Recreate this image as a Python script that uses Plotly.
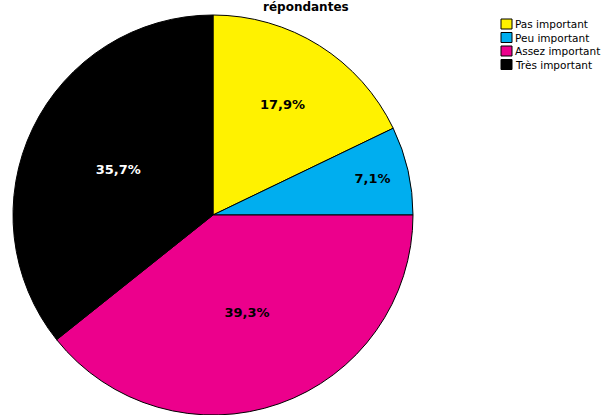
import plotly.graph_objects as go

labels = ["Pas important", "Peu important", "Assez important", "Très important"]
values = [5, 2, 11, 10]
colors = ["#FFF200", "#00AEEF", "#EC008C", "#000000"]
text_colors = ["#000000", "#000000", "#000000", "#FFFFFF"]
title_text = "répondantes"

W, H = 611, 415

fig = go.Figure(go.Pie(
    labels=labels,
    values=values,
    sort=False,
    direction="clockwise",
    rotation=0,
    marker=dict(colors=colors, line=dict(color="#000000", width=1)),
    texttemplate="%{percent:.1%}",
    textposition="inside",
    insidetextorientation="horizontal",
    textfont=dict(family="DejaVu Sans", size=13, color=text_colors, weight="bold"),
    domain=dict(x=[12 / W, 414 / W], y=[0, 400 / H]),
    hoverinfo="label+percent",
    showlegend=False,
))

# manual legend (compact, like the reference)
shapes = []
annotations = []
lx0, lsize_w, lsize_h, ltop, lstep = 501, 11, 10, 19, 13.5
for i, (lab, col) in enumerate(zip(labels, colors)):
    top = ltop + i * lstep
    shapes.append(dict(
        type="rect", xref="paper", yref="paper",
        x0=lx0 / W, x1=(lx0 + lsize_w) / W,
        y0=1 - (top + lsize_h) / H, y1=1 - top / H,
        fillcolor=col, line=dict(color="#000000", width=1),
    ))
    annotations.append(dict(
        text=lab, xref="paper", yref="paper",
        x=(lx0 + lsize_w + 2) / W, y=1 - (top + lsize_h / 2) / H,
        xanchor="left", yanchor="middle", showarrow=False,
        font=dict(family="DejaVu Sans", size=10.5, color="#000000"),
        borderpad=0,
    ))

annotations.append(dict(
    text="<b>" + title_text + "</b>",
    x=0.5, xref="paper", y=1 - 7 / H, yref="paper",
    xanchor="center", yanchor="middle",
    showarrow=False, borderpad=0,
    font=dict(family="DejaVu Sans", size=12, color="#000000"),
))

fig.update_layout(
    width=W, height=H,
    margin=dict(l=0, r=0, t=0, b=0),
    paper_bgcolor="white",
    plot_bgcolor="white",
    separators=", ",
    showlegend=False,
    shapes=shapes,
    annotations=annotations,
)

fig.write_html("out.html")
